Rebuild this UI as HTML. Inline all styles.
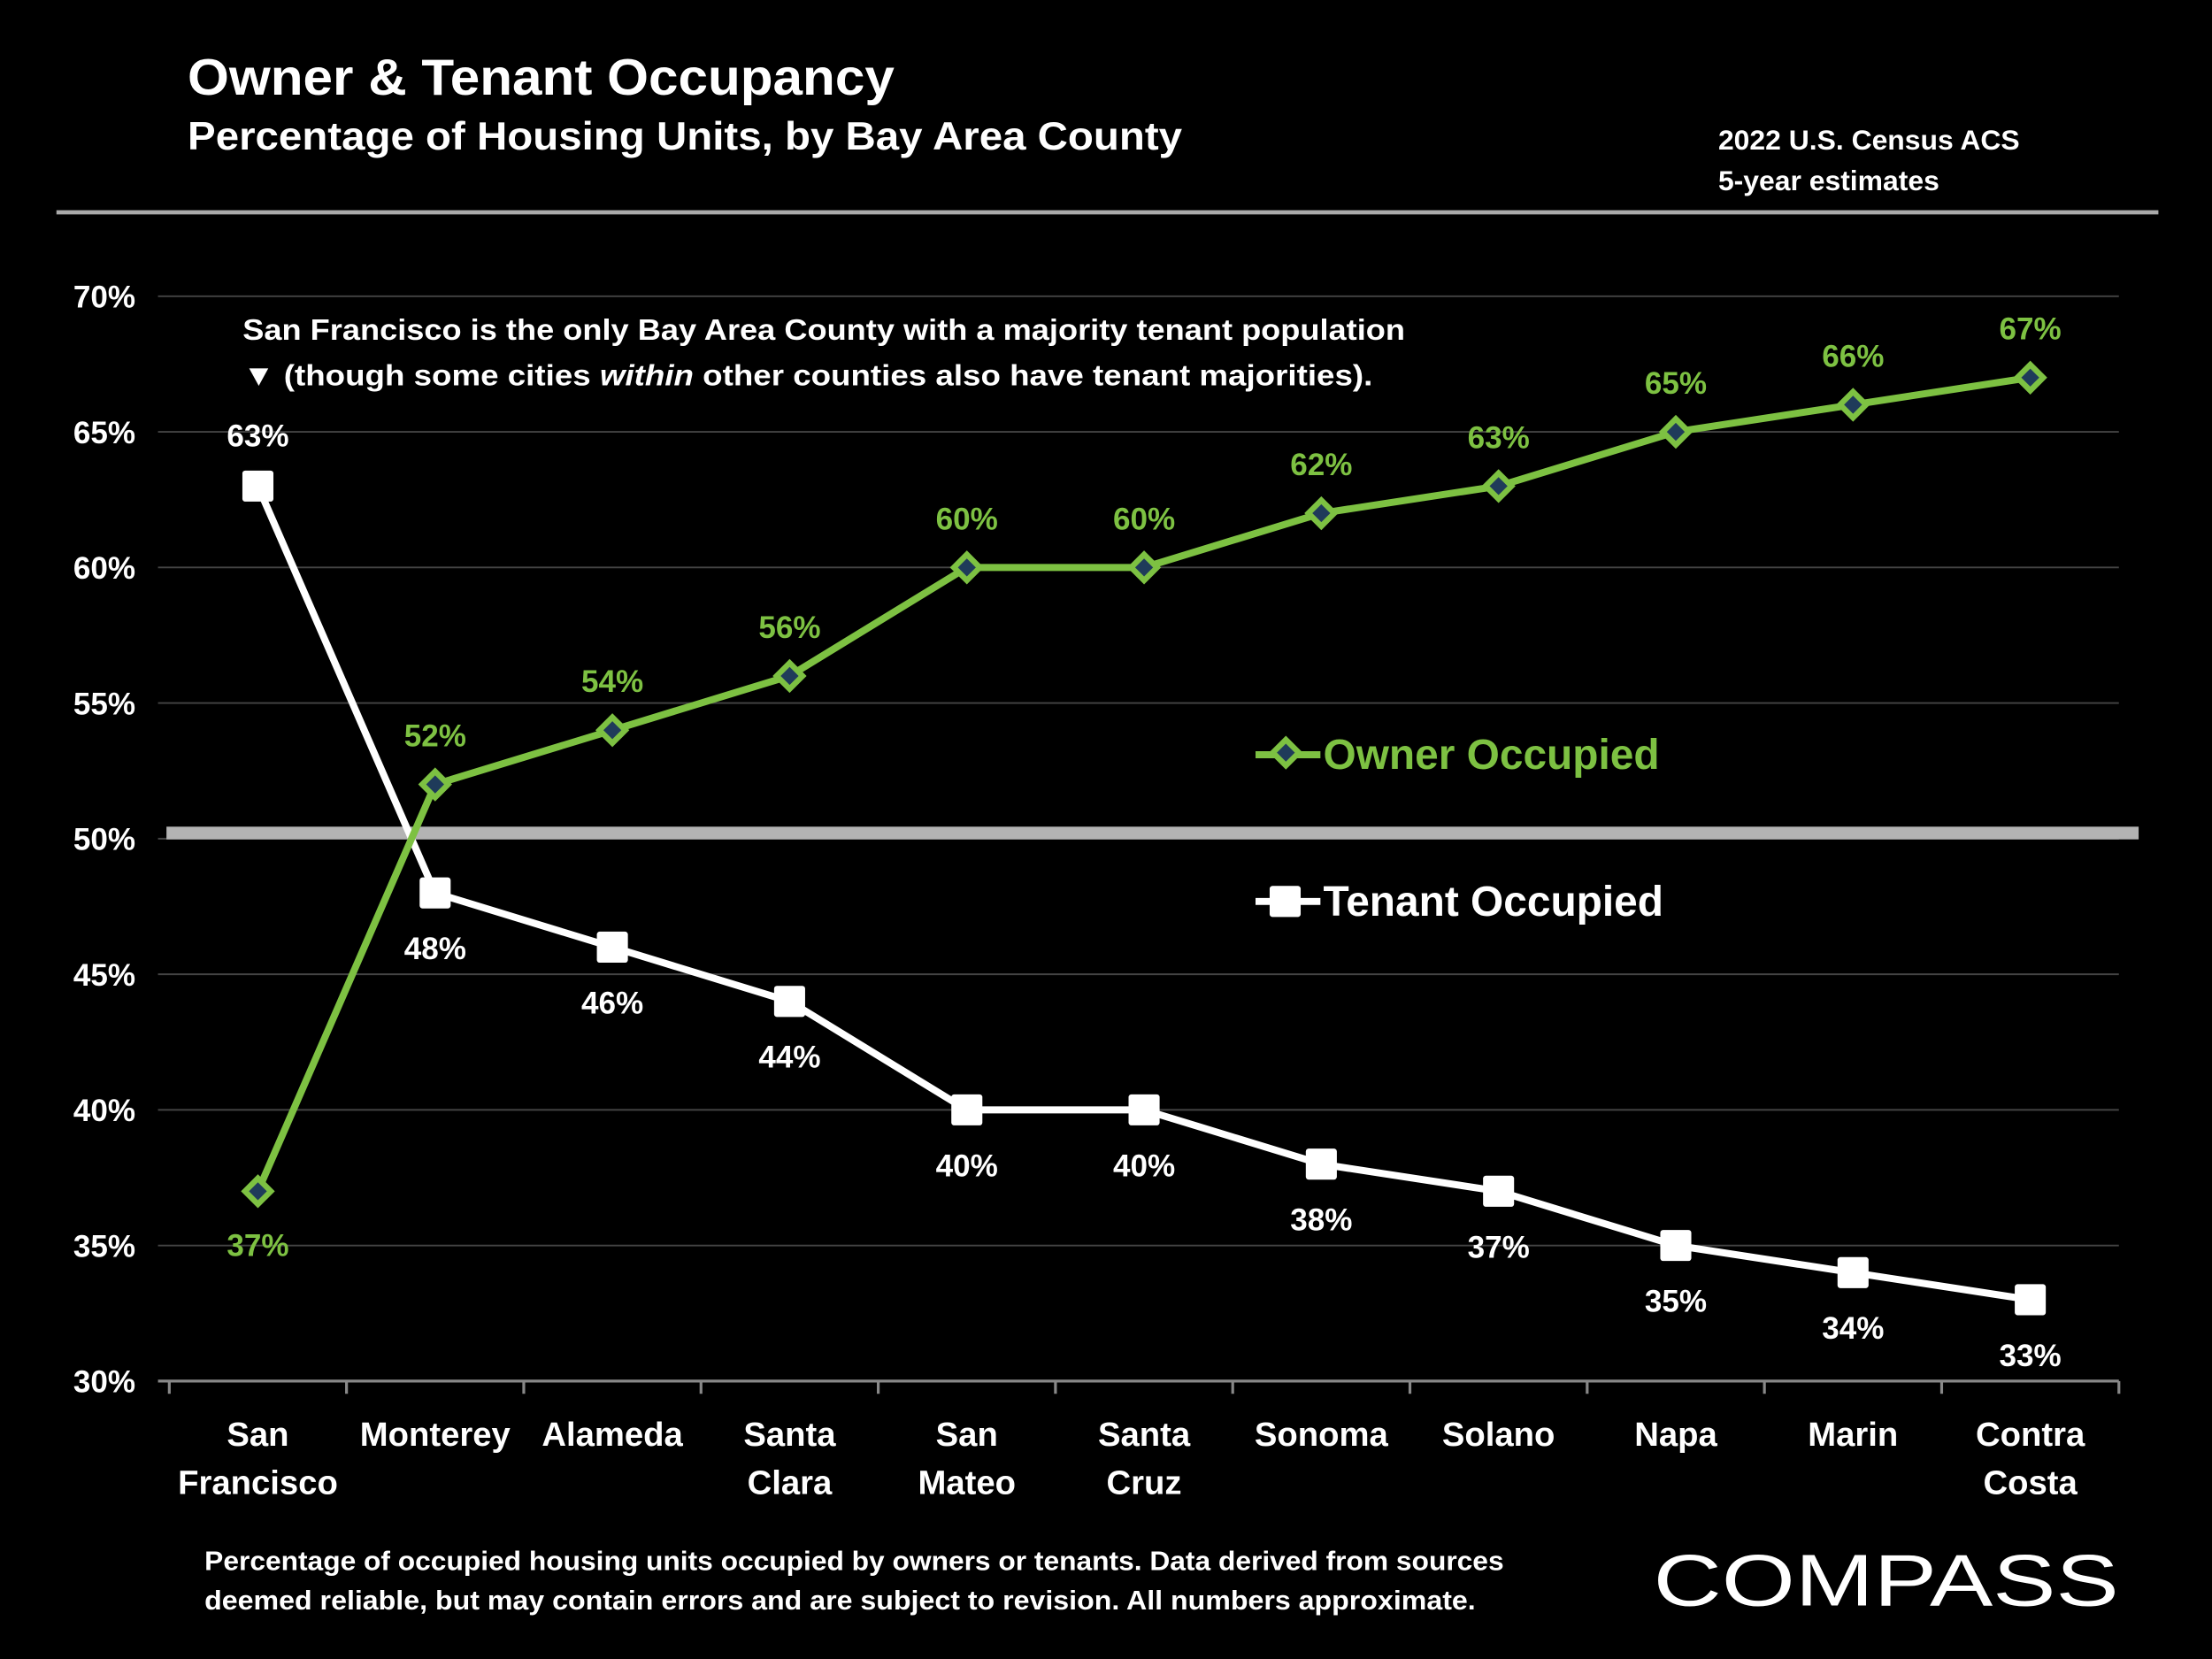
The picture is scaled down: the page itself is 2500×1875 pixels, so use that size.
<!DOCTYPE html>
<html><head><meta charset="utf-8"><style>
html,body{margin:0;padding:0;background:#000;}
svg{display:block;font-family:"Liberation Sans",sans-serif;font-weight:bold;}
</style></head><body>
<svg width="2500" height="1875" viewBox="0 0 1568 1176" xmlns="http://www.w3.org/2000/svg">
<rect width="1568" height="1176" fill="#000"/>
<text x="133" y="67" font-size="36" fill="#fff" textLength="501" lengthAdjust="spacingAndGlyphs">Owner &amp; Tenant Occupancy</text>
<text x="133" y="106" font-size="28" fill="#fff" textLength="705" lengthAdjust="spacingAndGlyphs">Percentage of Housing Units, by Bay Area County</text>
<text x="1218" y="106" font-size="20" fill="#fff">2022 U.S. Census ACS</text>
<text x="1218" y="135" font-size="20" fill="#fff">5-year estimates</text>
<rect x="40" y="149" width="1490" height="3" fill="#aaa"/>
<g id="grid"></g>
<g id="axes"></g>
<rect x="118" y="586" width="1398" height="9" fill="#b3b3b3"/>
<text x="172" y="241" font-size="21" fill="#fff" textLength="824" lengthAdjust="spacingAndGlyphs">San Francisco is the only Bay Area County with a majority tenant population</text>
<text x="172" y="273" font-size="21" fill="#fff" textLength="801" lengthAdjust="spacingAndGlyphs">▼ (though some cities <tspan font-style="italic">within</tspan> other counties also have tenant majorities).</text>
<g id="series"></g>
<g>
<line x1="890" y1="535" x2="936" y2="535" stroke="#7dc142" stroke-width="5"/>
<rect x="905" y="527" width="13" height="13" transform="rotate(45 911.5 533.5)" fill="#1f3b5a" stroke="#7dc142" stroke-width="4"/>
<text x="938" y="545" font-size="30" fill="#7dc142">Owner Occupied</text>
</g>
<g>
<line x1="890" y1="639" x2="936" y2="639" stroke="#fff" stroke-width="5"/>
<rect x="900" y="628" width="22" height="22" rx="2" fill="#fff"/>
<text x="938" y="649" font-size="30" fill="#fff">Tenant Occupied</text>
</g>
<text x="145" y="1113" font-size="19" fill="#fff" textLength="921" lengthAdjust="spacingAndGlyphs">Percentage of occupied housing units occupied by owners or tenants. Data derived from sources</text>
<text x="145" y="1141" font-size="19" fill="#fff" textLength="901" lengthAdjust="spacingAndGlyphs">deemed reliable, but may contain errors and are subject to revision.  All numbers approximate.</text>
<text x="1172" y="1138" font-size="52" font-weight="normal" fill="#fff" textLength="330" lengthAdjust="spacingAndGlyphs">COMPASS</text>
</svg>
<script>
const categories=[["San","Francisco"],["Monterey"],["Alameda"],["Santa","Clara"],["San","Mateo"],["Santa","Cruz"],["Sonoma"],["Solano"],["Napa"],["Marin"],["Contra","Costa"]];
const ownerValues=[37,52,54,56,60,60,62,63,65,66,67];
const tenantValues=[63,48,46,44,40,40,38,37,35,34,33];
const yTicks=[30,35,40,45,50,55,60,65,70];
const NS="http://www.w3.org/2000/svg";
const x0=120,x1=1502,yTop=210,yBot=979,vMin=30,vMax=70;
const band=(x1-x0)/categories.length;
const xs=i=>x0+band*(i+0.5);
const ys=v=>yBot-(v-vMin)/(vMax-vMin)*(yBot-yTop);
function mk(tag,attrs,parent,txt){const e=document.createElementNS(NS,tag);for(const k in attrs)e.setAttribute(k,attrs[k]);if(txt!==undefined)e.textContent=txt;parent.appendChild(e);return e;}
const grid=document.getElementById('grid'),axes=document.getElementById('axes'),series=document.getElementById('series');
yTicks.forEach(t=>{
 const l=mk('line',{x1:x0-8,x2:x1,y1:ys(t),y2:ys(t),stroke:t===30?'#888':'#444','stroke-width':t===30?2:1.2},grid);
 
 
 const tx=mk('text',{x:96,y:ys(t)+8,'text-anchor':'end','font-size':22,fill:'#fff'},axes,t+'%');
 
 
});
for(let k=0;k<=categories.length;k++){
 const l=mk('line',{x1:x0+band*k,x2:x0+band*k,y1:yBot,y2:yBot+9,stroke:'#888','stroke-width':2},axes);
 
 
}
categories.forEach((c,i)=>{
 c.forEach((w,j)=>{
  const t=mk('text',{x:xs(i),y:1025+34*j,'text-anchor':'middle','font-size':24,fill:'#fff'},axes,w);
  
  
 });
});
const tp=mk('polyline',{points:tenantValues.map((v,i)=>xs(i)+','+ys(v)).join(' '),fill:'none',stroke:'#fff','stroke-width':5,'stroke-linejoin':'round'},series);


const op=mk('polyline',{points:ownerValues.map((v,i)=>xs(i)+','+ys(v)).join(' '),fill:'none',stroke:'#7dc142','stroke-width':5,'stroke-linejoin':'round'},series);


tenantValues.forEach((v,i)=>{
 const r=mk('rect',{x:xs(i)-11,y:ys(v)-11,width:22,height:22,rx:2,fill:'#fff'},series);
 
 
 const above=v>ownerValues[i];
 const t=mk('text',{x:xs(i),y:above?ys(v)-28:ys(v)+47,'text-anchor':'middle','font-size':22,fill:'#fff'},series,v+'%');
 
 
});
ownerValues.forEach((v,i)=>{
 const r=mk('rect',{x:xs(i)-6.5,y:ys(v)-6.5,width:13,height:13,transform:`rotate(45 ${xs(i)} ${ys(v)})`,fill:'#1f3b5a',stroke:'#7dc142','stroke-width':4},series);
 
 
 const above=v>tenantValues[i];
 const t=mk('text',{x:xs(i),y:above?ys(v)-27:ys(v)+46,'text-anchor':'middle','font-size':22,fill:'#7dc142'},series,v+'%');
 
 
});
</script>
</body></html>
